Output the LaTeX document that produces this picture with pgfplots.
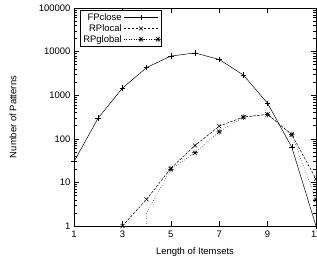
\documentclass[border=0pt]{standalone}
\usepackage{fontspec}
\setmainfont{Liberation Sans}
\usepackage{pgfplots}
\pgfplotsset{compat=1.18}
\pgfdeclareplotmark{pstar}{%
  \pgfpathmoveto{\pgfqpoint{-\pgfplotmarksize}{0pt}}\pgfpathlineto{\pgfqpoint{\pgfplotmarksize}{0pt}}%
  \pgfpathmoveto{\pgfqpoint{0pt}{-\pgfplotmarksize}}\pgfpathlineto{\pgfqpoint{0pt}{\pgfplotmarksize}}%
  \pgfpathmoveto{\pgfqpoint{-0.75\pgfplotmarksize}{-0.75\pgfplotmarksize}}\pgfpathlineto{\pgfqpoint{0.75\pgfplotmarksize}{0.75\pgfplotmarksize}}%
  \pgfpathmoveto{\pgfqpoint{-0.75\pgfplotmarksize}{0.75\pgfplotmarksize}}\pgfpathlineto{\pgfqpoint{0.75\pgfplotmarksize}{-0.75\pgfplotmarksize}}%
  \pgfusepathqstroke}
\newcommand{\ff}{\fontsize{9.5}{11}\selectfont}
\begin{document}
\begin{tikzpicture}
\begin{axis}[
  at={(0,0)}, anchor=south west,
  scale only axis, width=242bp, height=218bp,
  ymode=log, xmin=1, xmax=11, ymin=1, ymax=100000,
  xtick={1,3,5,7,9,11},
  ytick={1,10,100,1000,10000,100000},
  yticklabels={1,10,100,1000,10000,100000},
  minor ytick={2,3,4,5,6,7,8,9,20,30,40,50,60,70,80,90,200,300,400,500,600,700,800,900,2000,3000,4000,5000,6000,7000,8000,9000,20000,30000,40000,50000,60000,70000,80000,90000},
  tick align=inside,
  major tick length=5bp, minor tick length=3bp,
  tick style={black, line width=0.5pt},
  axis line style={line width=0.8pt},
  /pgf/number format/assume math mode=true,
  tick label style={font=\ff},
  label style={font=\ff},
  xlabel={Length of Itemsets},
  ylabel={Number of Patterns},
  xlabel style={at={(axis description cs:0.5,-0.119)}, anchor=center},
  ylabel style={at={(axis description cs:-0.252,0.5)}, anchor=center},
  xticklabel style={yshift=-1bp},
  legend style={at={(0.025,0.99)}, anchor=north west, font=\ff, draw=black, line width=0.6pt, inner sep=1pt, row sep=-1.5pt, cells={anchor=east}},
  legend plot pos=right,
  legend image code/.code={\draw[mark repeat=2, mark phase=2, #1] plot coordinates {(0cm,0cm)(0.6cm,0cm)(1.2cm,0cm)};},
  every axis plot/.append style={line width=0.5pt, black, mark size=2.8pt, mark options={solid, line width=0.5pt}},
]
\addplot[mark=+] coordinates {(1,30)(2,300)(3,1450)(4,4300)(5,7900)(6,9300)(7,6600)(8,2900)(9,650)(10,64)(11,1)};
\addlegendentry{FPclose}
\addplot[mark=x, dashed, dash pattern=on 2.5pt off 1.5pt] coordinates {(3,1)(4,4.1)(5,21)(6,70)(7,195)(8,315)(9,365)(10,124)(11,12)};
\addlegendentry{RPlocal}
\addplot[mark=pstar, dotted, mark indices={2,3,4,5,6,7,8}] coordinates {(4,0.3)(4,2)(5,20)(6,48)(7,145)(8,315)(9,360)(10,126)(11,4)};
\addlegendentry{RPglobal}
\end{axis}
\pgfresetboundingbox
\path (-74bp,-37bp) rectangle (243bp,226bp);
\end{tikzpicture}
\end{document}
